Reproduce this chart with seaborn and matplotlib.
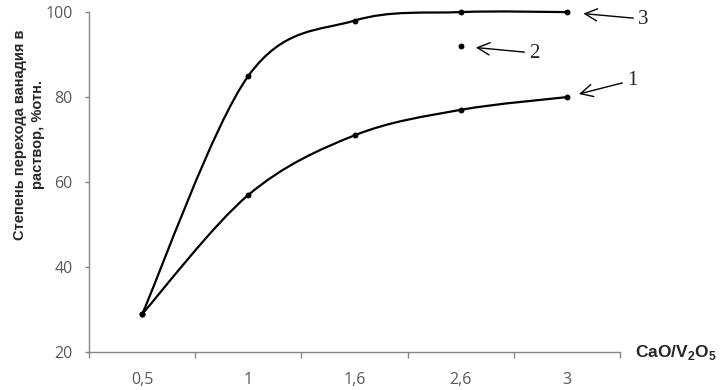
import numpy as np
import pandas as pd
import seaborn as sns
import matplotlib.pyplot as plt
from matplotlib.path import Path
from matplotlib.patches import PathPatch

# ── data ────────────────────────────────────────────────
ratios = ["0,5", "1", "1,6", "2,6", "3"]
curve_1 = [29, 57, 71, 77, 80]
curve_3 = [29, 85, 98, 100, 100]
point_2_ratio = "2,6"
point_2_value = 92
y_ticks = [20, 40, 60, 80, 100]

sns.set_style("ticks")
plt.rcParams["font.family"] = ["Liberation Sans", "DejaVu Sans"]

fig = plt.figure(figsize=(7.25, 3.9), dpi=100)
ax = fig.add_axes([0.123, 0.097, 0.732, 0.872])

xpos = np.arange(len(ratios))


def smooth_path(xs, ys):
    # excel-style smoothed line: cubic bezier through each point
    pts = np.column_stack([xs, ys]).astype(float)
    ext = np.vstack([pts[0], pts, pts[-1]])
    verts = [pts[0]]
    codes = [Path.MOVETO]
    for i in range(len(pts) - 1):
        p0, p1, p2, p3 = ext[i], ext[i + 1], ext[i + 2], ext[i + 3]
        verts += [p1 + (p2 - p0) / 6, p2 - (p3 - p1) / 6, p2]
        codes += [Path.CURVE4] * 3
    return Path(verts, codes)


for vals in (curve_1, curve_3):
    ax.add_patch(PathPatch(smooth_path(xpos, vals), fill=False,
                           lw=1.6, color="black", capstyle="round",
                           clip_on=False))

df = pd.DataFrame({
    "x": np.concatenate([xpos, xpos, [ratios.index(point_2_ratio)]]),
    "y": curve_1 + curve_3 + [point_2_value],
})
sns.scatterplot(data=df, x="x", y="y", ax=ax, color="black", s=18,
                edgecolor="black", linewidth=0, zorder=3)
ax.collections[-1].set_clip_on(False)

# ── axes look ───────────────────────────────────────────
ax.set_xlim(-0.5, len(ratios) - 0.5)
ax.set_ylim(20, 100)
ax.set_yticks(y_ticks)
ax.set_xticks(np.arange(len(ratios) + 1) - 0.5)
ax.set_xticklabels([])
ax.set_xticks(xpos, minor=True)
ax.set_xticklabels(ratios, minor=True)
ax.tick_params(axis="x", which="major", length=4, color="#868686", width=1)
ax.tick_params(axis="x", which="minor", length=0, pad=14,
               labelsize=11.5, labelcolor="#595959")
ax.tick_params(axis="y", length=3, color="#868686", width=1, pad=9,
               labelsize=11.5, labelcolor="#595959")
for lbl in ax.get_xticklabels(minor=True) + ax.get_yticklabels():
    lbl.set_family(["Open Sans", "DejaVu Sans"])
ax.set_xlabel("")
ax.set_ylabel("")
sns.despine(ax=ax)
for side in ("left", "bottom"):
    ax.spines[side].set_color("#868686")
    ax.spines[side].set_linewidth(1)

fig.text(0.040, 0.654, "Степень перехода ванадия в\nраствор, %отн.",
         rotation=90, ha="center", va="center", fontsize=10.5,
         fontweight="bold", linespacing=1.45)
fig.text(0.876, 0.097, r"CaO/V$_\mathregular{2}$O$_\mathregular{5}$",
         ha="left", va="center", fontsize=12.5, fontweight="bold")

# ── curve labels with arrows ────────────────────────────
arrow = dict(arrowstyle="->", color="black", lw=1,
             mutation_scale=22, shrinkA=1)
labels = [
    ("3", xpos[-1], curve_3[-1], (55, -5), 12),
    ("2", ratios.index(point_2_ratio), point_2_value, (53, -5), 11),
    ("1", xpos[-1], curve_1[-1], (47, 12), 9),
]
for txt, x, y, off, shrink in labels:
    ax.annotate(txt, xy=(x, y), xytext=off, textcoords="offset points",
                ha="center", va="center", fontsize=15,
                family=["Liberation Serif", "DejaVu Serif"],
                annotation_clip=False,
                arrowprops=dict(arrow, shrinkB=shrink))

plt.savefig("out.png", dpi=100)
